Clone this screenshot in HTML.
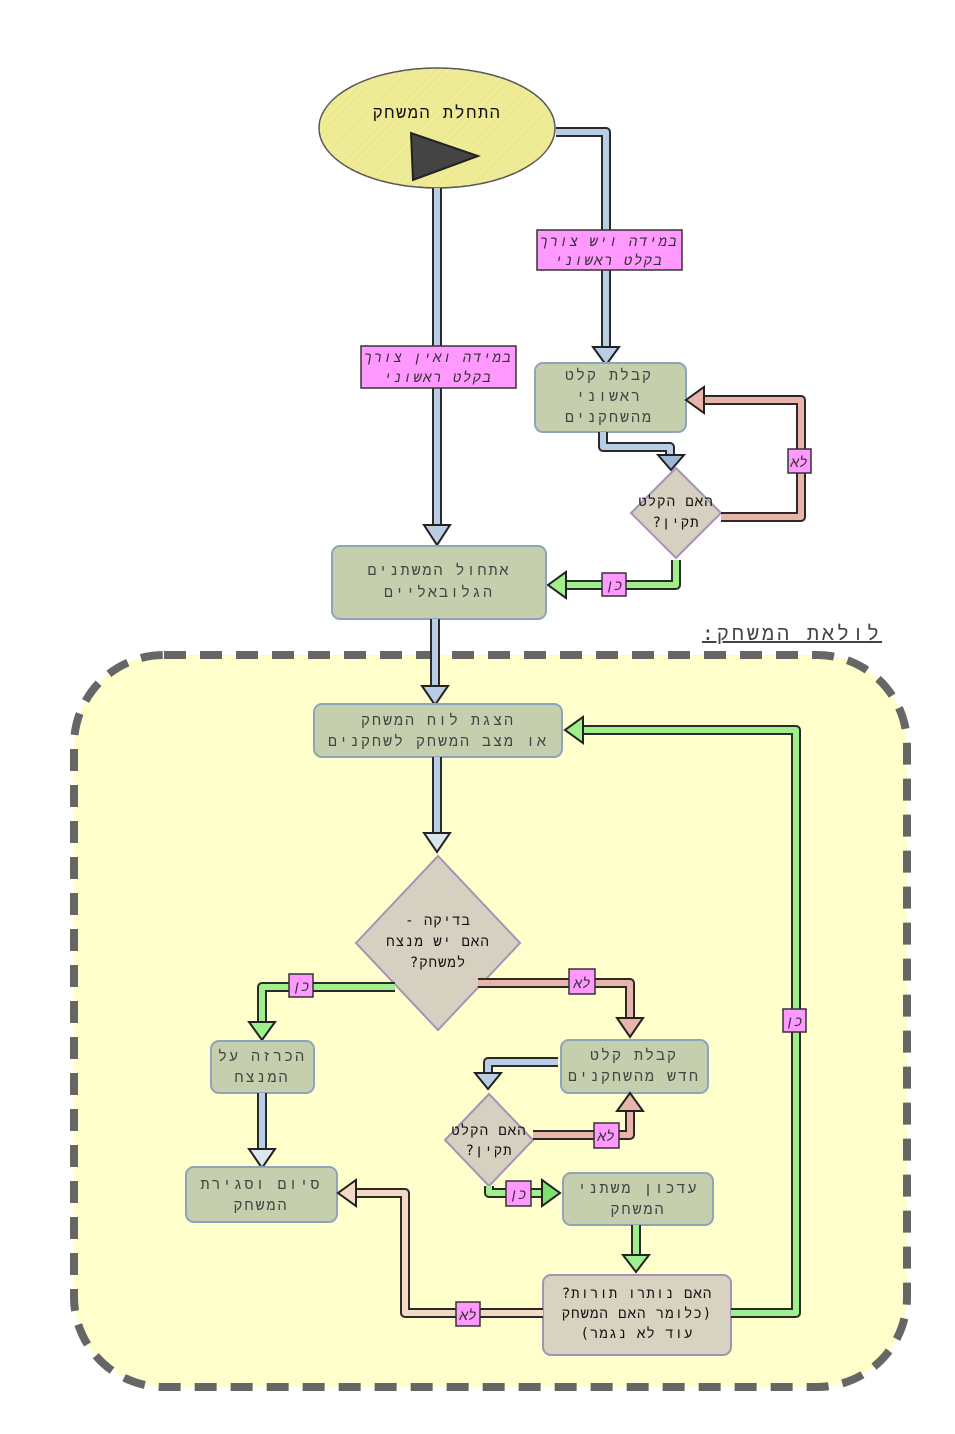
<!DOCTYPE html>
<html><head><meta charset="utf-8"><style>
html,body{margin:0;padding:0;background:#fff;}
svg{display:block;}
text{font-family:"DejaVu Sans Mono","Liberation Mono","DejaVu Sans",monospace;direction:rtl;unicode-bidi:embed;}
.bt{font-size:15px;fill:#444;letter-spacing:2px;text-anchor:middle;}
.dt{font-size:14px;fill:#111;letter-spacing:1px;text-anchor:middle;}
.lb{font-size:14px;fill:#333;font-style:italic;text-anchor:middle;letter-spacing:1.5px;}
.o{fill:none;stroke:#2a2a2a;stroke-width:10;stroke-linejoin:round;}
.blue{fill:none;stroke:#b9cde4;stroke-width:6;stroke-linejoin:round;}
.green{fill:none;stroke:#9fef8c;stroke-width:6;stroke-linejoin:round;}
.red{fill:none;stroke:#e9b4aa;stroke-width:6;stroke-linejoin:round;}
.peach{fill:none;stroke:#f4dac4;stroke-width:6;stroke-linejoin:round;}
.box{fill:#c5cfae;stroke:#8fa3bb;stroke-width:2;}
.dia{fill:#d6d0c0;stroke:#a890b8;stroke-width:2;}
.pink{fill:#ff99ff;stroke:#333;stroke-width:1.5;}
</style></head><body>
<svg width="955" height="1434" viewBox="0 0 955 1434" xmlns="http://www.w3.org/2000/svg">
<defs>
<pattern id="h" width="6" height="6" patternUnits="userSpaceOnUse" patternTransform="rotate(45)">
<line x1="0" y1="0" x2="0" y2="6" stroke="#ffffff" stroke-opacity="0.25" stroke-width="1.5"/>
</pattern>
</defs>

<rect x="74" y="655" width="833" height="732" rx="90" fill="#ffffcc" stroke="#666" stroke-width="8" stroke-dasharray="22 14"/>
<text x="882" y="640" style="font-size:20px;fill:#444;letter-spacing:3px;text-anchor:start;text-decoration:underline">לולאת המשחק:</text>

<ellipse cx="437" cy="128" rx="118" ry="60" fill="#eeea92" stroke="#555" stroke-width="1.5"/>
<ellipse cx="437" cy="128" rx="118" ry="60" fill="url(#h)"/>
<text x="437" y="118" class="dt" style="font-size:17px;letter-spacing:1.5px">התחלת המשחק</text>
<polygon points="411,133 413,180 478,156" fill="#444" stroke="#222" stroke-width="2"/>

<path class="o" d="M437,188 V530"/><path class="blue" d="M437,188 V530"/>
<polygon points="424,525 450,525 437,545" fill="#b9cde4" stroke="#222" stroke-width="2"/>
<path class="o" d="M556,132 H606 V350"/><path class="blue" d="M556,132 H606 V350"/>
<polygon points="593,347 619,347 606,365" fill="#b9cde4" stroke="#222" stroke-width="2"/>

<rect class="pink" x="537" y="230" width="145" height="40"/>
<text x="609" y="246" class="lb">במידה ויש צורך</text>
<text x="609" y="265" class="lb">בקלט ראשוני</text>
<rect class="pink" x="361" y="346" width="155" height="42"/>
<text x="438" y="362" class="lb">במידה ואין צורך</text>
<text x="438" y="382" class="lb">בקלט ראשוני</text>

<rect class="box" x="535" y="363" width="151" height="69" rx="8"/>
<text x="609" y="380" class="bt">קבלת קלט</text>
<text x="609" y="401" class="bt">ראשוני</text>
<text x="609" y="422" class="bt">מהשחקנים</text>

<path class="o" d="M603,432 V447 H670 V458"/><path class="blue" d="M603,432 V447 H670 V458"/>
<polygon points="658,455 684,455 671,470" fill="#9db8d8" stroke="#222" stroke-width="2"/>

<polygon class="dia" points="631,513 676,468 721,513 676,558"/>
<text x="676" y="506" class="dt">האם הקלט</text>
<text x="676" y="527" class="dt">תקין?</text>

<path class="o" d="M721,517 H801 V400 H700"/><path class="red" d="M721,517 H801 V400 H700"/>
<polygon points="704,387 704,413 686,400" fill="#e9b4aa" stroke="#222" stroke-width="2"/>
<rect class="pink" x="788" y="449" width="23" height="24"/>
<text x="799" y="467" class="lb" style="letter-spacing:0">לא</text>

<path class="o" d="M676,560 V585 H562"/><path class="green" d="M676,560 V585 H562"/>
<polygon points="566,572 566,598 548,585" fill="#9fef8c" stroke="#222" stroke-width="2"/>
<rect class="pink" x="602" y="573" width="24" height="23"/>
<text x="614" y="590" class="lb" style="letter-spacing:0">כן</text>

<rect class="box" x="332" y="546" width="214" height="73" rx="8"/>
<text x="439" y="575" class="bt">אתחול המשתנים</text>
<text x="439" y="597" class="bt">הגלובאליים</text>

<path class="o" d="M435,619 V690"/><path class="blue" d="M435,619 V690"/>
<polygon points="422,686 448,686 435,705" fill="#b9cde4" stroke="#222" stroke-width="2"/>

<rect class="box" x="314" y="704" width="248" height="53" rx="8"/>
<text x="438" y="725" class="bt">הצגת לוח המשחק</text>
<text x="438" y="746" class="bt">או מצב המשחק לשחקנים</text>

<path class="o" d="M437,757 V836"/><path class="blue" d="M437,757 V836"/>
<polygon points="424,833 450,833 437,852" fill="#dce6ee" stroke="#222" stroke-width="2"/>

<polygon class="dia" points="356,943 438,856 520,943 438,1030"/>
<text x="438" y="925" class="dt">בדיקה -</text>
<text x="438" y="946" class="dt">האם יש מנצח</text>
<text x="438" y="967" class="dt">למשחק?</text>

<path class="o" d="M395,987 H262 V1026"/><path class="green" d="M395,987 H262 V1026"/>
<polygon points="249,1022 275,1022 262,1040" fill="#9fef8c" stroke="#222" stroke-width="2"/>
<rect class="pink" x="289" y="974" width="24" height="23"/>
<text x="301" y="991" class="lb" style="letter-spacing:0">כן</text>

<path class="o" d="M478,983 H630 V1022"/><path class="red" d="M478,983 H630 V1022"/>
<polygon points="617,1018 643,1018 630,1037" fill="#e9b4aa" stroke="#222" stroke-width="2"/>
<rect class="pink" x="569" y="969" width="26" height="25"/>
<text x="582" y="988" class="lb" style="letter-spacing:0">לא</text>

<rect class="box" x="211" y="1041" width="103" height="52" rx="8"/>
<text x="262" y="1061" class="bt">הכרזה על</text>
<text x="262" y="1082" class="bt">המנצח</text>

<path class="o" d="M262,1093 V1152"/><path class="blue" d="M262,1093 V1152"/>
<polygon points="249,1149 275,1149 262,1168" fill="#dce6ee" stroke="#222" stroke-width="2"/>

<rect class="box" x="186" y="1167" width="151" height="55" rx="8"/>
<text x="261" y="1189" class="bt">סיום וסגירת</text>
<text x="261" y="1210" class="bt">המשחק</text>

<rect class="box" x="561" y="1040" width="147" height="53" rx="8"/>
<text x="634" y="1060" class="bt">קבלת קלט</text>
<text x="634" y="1081" class="bt">חדש מהשחקנים</text>

<path class="o" d="M558,1062 H488 V1076"/><path class="blue" d="M558,1062 H488 V1076"/>
<polygon points="475,1073 501,1073 488,1089" fill="#b9cde4" stroke="#222" stroke-width="2"/>

<polygon class="dia" points="445,1140 489,1094 533,1140 489,1186"/>
<text x="489" y="1135" class="dt">האם הקלט</text>
<text x="489" y="1155" class="dt">תקין?</text>

<path class="o" d="M533,1135 H630 V1108"/><path class="red" d="M533,1135 H630 V1108"/>
<polygon points="617,1111 643,1111 630,1093" fill="#e9b4aa" stroke="#222" stroke-width="2"/>
<rect class="pink" x="594" y="1123" width="25" height="25"/>
<text x="606" y="1141" class="lb" style="letter-spacing:0">לא</text>

<path class="o" d="M489,1186 V1193 H545"/><path class="green" d="M489,1186 V1193 H545"/>
<polygon points="542,1180 542,1206 560,1193" fill="#7fe070" stroke="#222" stroke-width="2"/>
<rect class="pink" x="506" y="1181" width="25" height="25"/>
<text x="518" y="1199" class="lb" style="letter-spacing:0">כן</text>

<rect class="box" x="563" y="1173" width="150" height="52" rx="8"/>
<text x="638" y="1193" class="bt">עדכון משתני</text>
<text x="638" y="1214" class="bt">המשחק</text>

<path class="o" d="M636,1225 V1258"/><path class="green" d="M636,1225 V1258"/>
<polygon points="623,1255 649,1255 636,1272" fill="#9fef8c" stroke="#222" stroke-width="2"/>

<rect x="543" y="1275" width="188" height="80" rx="8" fill="#d8d2c0" stroke="#a890b8" stroke-width="2"/>
<text x="637" y="1298" class="dt">האם נותרו תורות?</text>
<text x="637" y="1318" class="dt">(כלומר האם המשחק</text>
<text x="637" y="1338" class="dt">עוד לא נגמר)</text>

<path class="o" d="M543,1313 H405 V1193 H353"/><path class="peach" d="M543,1313 H405 V1193 H353"/>
<polygon points="356,1180 356,1206 338,1193" fill="#f4dac4" stroke="#222" stroke-width="2"/>
<rect class="pink" x="456" y="1302" width="24" height="24"/>
<text x="468" y="1320" class="lb" style="letter-spacing:0">לא</text>

<path class="o" d="M731,1313 H796 V730 H580"/><path class="green" d="M731,1313 H796 V730 H580"/>
<polygon points="583,717 583,743 565,730" fill="#9fef8c" stroke="#222" stroke-width="2"/>
<rect class="pink" x="783" y="1009" width="23" height="23"/>
<text x="794" y="1026" class="lb" style="letter-spacing:0">כן</text>
</svg>
</body></html>
